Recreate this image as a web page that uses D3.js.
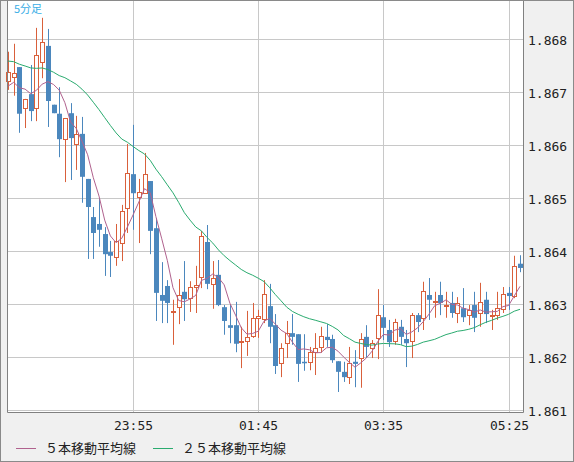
<!DOCTYPE html>
<html><head><meta charset="utf-8">
<script src="https://cdn.jsdelivr.net/npm/d3@7"></script>
<style>body{margin:0;background:#f0f0f0}svg{display:block}</style>
</head><body>
<script>
const openP=[1.86721,1.86728,1.86747,1.86670,1.86696,1.86670,1.86757,1.86787,1.86676,1.86659,1.86611,1.86660,1.86602,1.86621,1.86536,1.86464,1.86451,1.86432,1.86398,1.86389,1.86415,1.86481,1.86545,1.86502,1.86509,1.86532,1.86443,1.86317,1.86334,1.86285,1.86294,1.86323,1.86311,1.86332,1.86351,1.86417,1.86338,1.86355,1.86294,1.86260,1.86260,1.86228,1.86230,1.86240,1.86274,1.86272,1.86296,1.86260,1.86189,1.86226,1.86245,1.86243,1.86191,1.86191,1.86209,1.86219,1.86238,1.86234,1.86192,1.86172,1.86162,1.86191,1.86198,1.86238,1.86217,1.86236,1.86275,1.86251,1.86230,1.86257,1.86234,1.86230,1.86279,1.86274,1.86317,1.86304,1.86317,1.86296,1.86302,1.86283,1.86292,1.86279,1.86298,1.86283,1.86308,1.86277,1.86279,1.86291,1.86321,1.86315,1.86376];
const highP=[1.86776,1.86791,1.86747,1.86687,1.86751,1.86821,1.86840,1.86819,1.86676,1.86709,1.86651,1.86679,1.86655,1.86653,1.86536,1.86483,1.86500,1.86445,1.86419,1.86451,1.86487,1.86602,1.86638,1.86536,1.86585,1.86532,1.86462,1.86379,1.86345,1.86308,1.86347,1.86381,1.86343,1.86372,1.86438,1.86449,1.86381,1.86383,1.86298,1.86298,1.86304,1.86257,1.86287,1.86302,1.86289,1.86345,1.86338,1.86281,1.86226,1.86268,1.86281,1.86243,1.86243,1.86219,1.86245,1.86257,1.86262,1.86242,1.86192,1.86191,1.86219,1.86213,1.86245,1.86260,1.86232,1.86328,1.86298,1.86270,1.86272,1.86270,1.86251,1.86283,1.86283,1.86342,1.86349,1.86323,1.86342,1.86323,1.86323,1.86313,1.86330,1.86298,1.86323,1.86340,1.86323,1.86289,1.86323,1.86332,1.86332,1.86391,1.86392];
const lowP=[1.86704,1.86693,1.86623,1.86632,1.86645,1.86645,1.86726,1.86634,1.86660,1.86577,1.86530,1.86534,1.86553,1.86491,1.86385,1.86385,1.86408,1.86353,1.86351,1.86372,1.86381,1.86434,1.86440,1.86415,1.86509,1.86394,1.86268,1.86264,1.86264,1.86223,1.86262,1.86268,1.86285,1.86283,1.86330,1.86328,1.86291,1.86296,1.86242,1.86226,1.86209,1.86179,1.86202,1.86236,1.86236,1.86264,1.86226,1.86168,1.86162,1.86198,1.86223,1.86153,1.86174,1.86175,1.86166,1.86208,1.86219,1.86189,1.86134,1.86153,1.86149,1.86143,1.86142,1.86198,1.86198,1.86196,1.86232,1.86219,1.86223,1.86223,1.86181,1.86198,1.86247,1.86251,1.86270,1.86274,1.86279,1.86274,1.86274,1.86264,1.86266,1.86260,1.86247,1.86257,1.86264,1.86251,1.86270,1.86283,1.86289,1.86311,1.86360];
const closeP=[1.86738,1.86736,1.86659,1.86687,1.86664,1.86770,1.86794,1.86683,1.86660,1.86611,1.86651,1.86613,1.86621,1.86540,1.86483,1.86434,1.86440,1.86394,1.86391,1.86419,1.86476,1.86547,1.86509,1.86511,1.86545,1.86438,1.86321,1.86306,1.86302,1.86287,1.86317,1.86309,1.86332,1.86336,1.86428,1.86338,1.86349,1.86298,1.86268,1.86255,1.86225,1.86230,1.86238,1.86274,1.86277,1.86319,1.86257,1.86183,1.86217,1.86245,1.86238,1.86187,1.86189,1.86209,1.86217,1.86240,1.86232,1.86194,1.86172,1.86162,1.86189,1.86187,1.86234,1.86219,1.86226,1.86279,1.86255,1.86228,1.86266,1.86238,1.86226,1.86279,1.86266,1.86325,1.86308,1.86306,1.86302,1.86298,1.86283,1.86302,1.86275,1.86289,1.86274,1.86304,1.86281,1.86279,1.86292,1.86319,1.86315,1.86372,1.86368];
// closes before the visible window, used to seed the moving averages
const priorCloses=[1.86765,1.86780,1.86770,1.86755,1.86790,1.86775,1.86760,1.86785,1.86770,1.86750,1.86765,1.86780,1.86770,1.86760,1.86775,1.86790,1.86770,1.86760,1.86770,1.86765,1.86700,1.86710,1.86700,1.86707];
const tickIdx=[22,44,66,88];
const tickLabels=["23:55","01:45","03:35","05:25"];
const yTicks=[1.861,1.862,1.863,1.864,1.865,1.866,1.867,1.868];
const periodLabel="5分足";
const legendNames=["５本移動平均線","２５本移動平均線"];

const W=574,H=462, L=7,R=523,T=1,B=412;
const upC="#d9603b", dnC="#4b87bd", ma5C="#b0628e", ma25C="#2aab6f";
const svg=d3.select("body").append("svg").attr("width",W).attr("height",H);
svg.append("rect").attr("x",0.5).attr("y",0.5).attr("width",W-1).attr("height",H-1).attr("fill","#f0f0f0").attr("stroke","#8a8a8a");
svg.append("rect").attr("x",L).attr("y",T).attr("width",R-L).attr("height",B-T).attr("fill","#fff");
const n=closeP.length;
const x=d3.scaleLinear().domain([0,n-1]).range([8,520]);
const y=d3.scaleLinear().domain([1.861,1.868]).range([410,39]);
const g=svg.append("g");
yTicks.forEach(v=>{const yy=Math.round(y(v))+0.5;
 g.append("line").attr("x1",L).attr("x2",R).attr("y1",yy).attr("y2",yy).attr("stroke","#c8c8c8");
 svg.append("text").attr("x",528).attr("y",yy+5).text(v.toFixed(3)).attr("font-family","DejaVu Sans Mono").attr("font-size",13).attr("fill","#222");});
tickIdx.forEach((ix,k)=>{const xx=Math.round(x(ix))+0.5;
 g.append("line").attr("x1",xx).attr("x2",xx).attr("y1",T).attr("y2",B).attr("stroke","#c8c8c8");
 svg.append("text").attr("x",xx).attr("y",430).attr("text-anchor","middle").text(tickLabels[k]).attr("font-family","DejaVu Sans Mono").attr("font-size",13).attr("fill","#222");});
for(let i=0;i<n;i++){
 const o=openP[i],c=closeP[i],up=c>=o,col=up?upC:dnC,cx=Math.round(x(i))+0.5;
 g.append("line").attr("x1",cx).attr("x2",cx).attr("y1",y(highP[i])).attr("y2",y(lowP[i])).attr("stroke",col);
 const top=y(Math.max(o,c)),bot=y(Math.min(o,c));
 if(up) g.append("rect").attr("x",cx-2).attr("y",Math.round(top)+0.5).attr("width",4).attr("height",Math.max(1,Math.round(bot-top))).attr("fill","#fff").attr("stroke",col);
 else g.append("rect").attr("x",cx-2.5).attr("y",top).attr("width",5).attr("height",Math.max(1.5,bot-top)).attr("fill",col);
}
const all=priorCloses.concat(closeP);
function ma(p){return closeP.map((_,i)=>{const j=i+priorCloses.length;return d3.mean(all.slice(j-p+1,j+1));});}
const line=d3.line().x((d,i)=>x(i)).y(d=>y(d)).curve(d3.curveLinear);
g.append("path").attr("d",line(ma(25))).attr("fill","none").attr("stroke",ma25C).attr("stroke-width",1);
g.append("path").attr("d",line(ma(5))).attr("fill","none").attr("stroke",ma5C).attr("stroke-width",1);
svg.append("path").attr("d",`M${L+0.5},${T}V${B+0.5}H${R+0.5}V${T}`).attr("fill","none").attr("stroke","#808080");
svg.append("text").attr("x",14).attr("y",13).text(periodLabel).attr("font-family","Noto Sans CJK JP").attr("font-size",11).attr("fill","#3aaee6");
[[16,ma5C],[153,ma25C]].forEach(([lx,col],k)=>{
 svg.append("line").attr("x1",lx).attr("x2",lx+20).attr("y1",448.5).attr("y2",448.5).attr("stroke",col);
 svg.append("text").attr("x",lx+29).attr("y",453).text(legendNames[k]).attr("font-family","Noto Sans CJK JP").attr("font-size",13).attr("fill","#222");});
</script>
</body></html>
